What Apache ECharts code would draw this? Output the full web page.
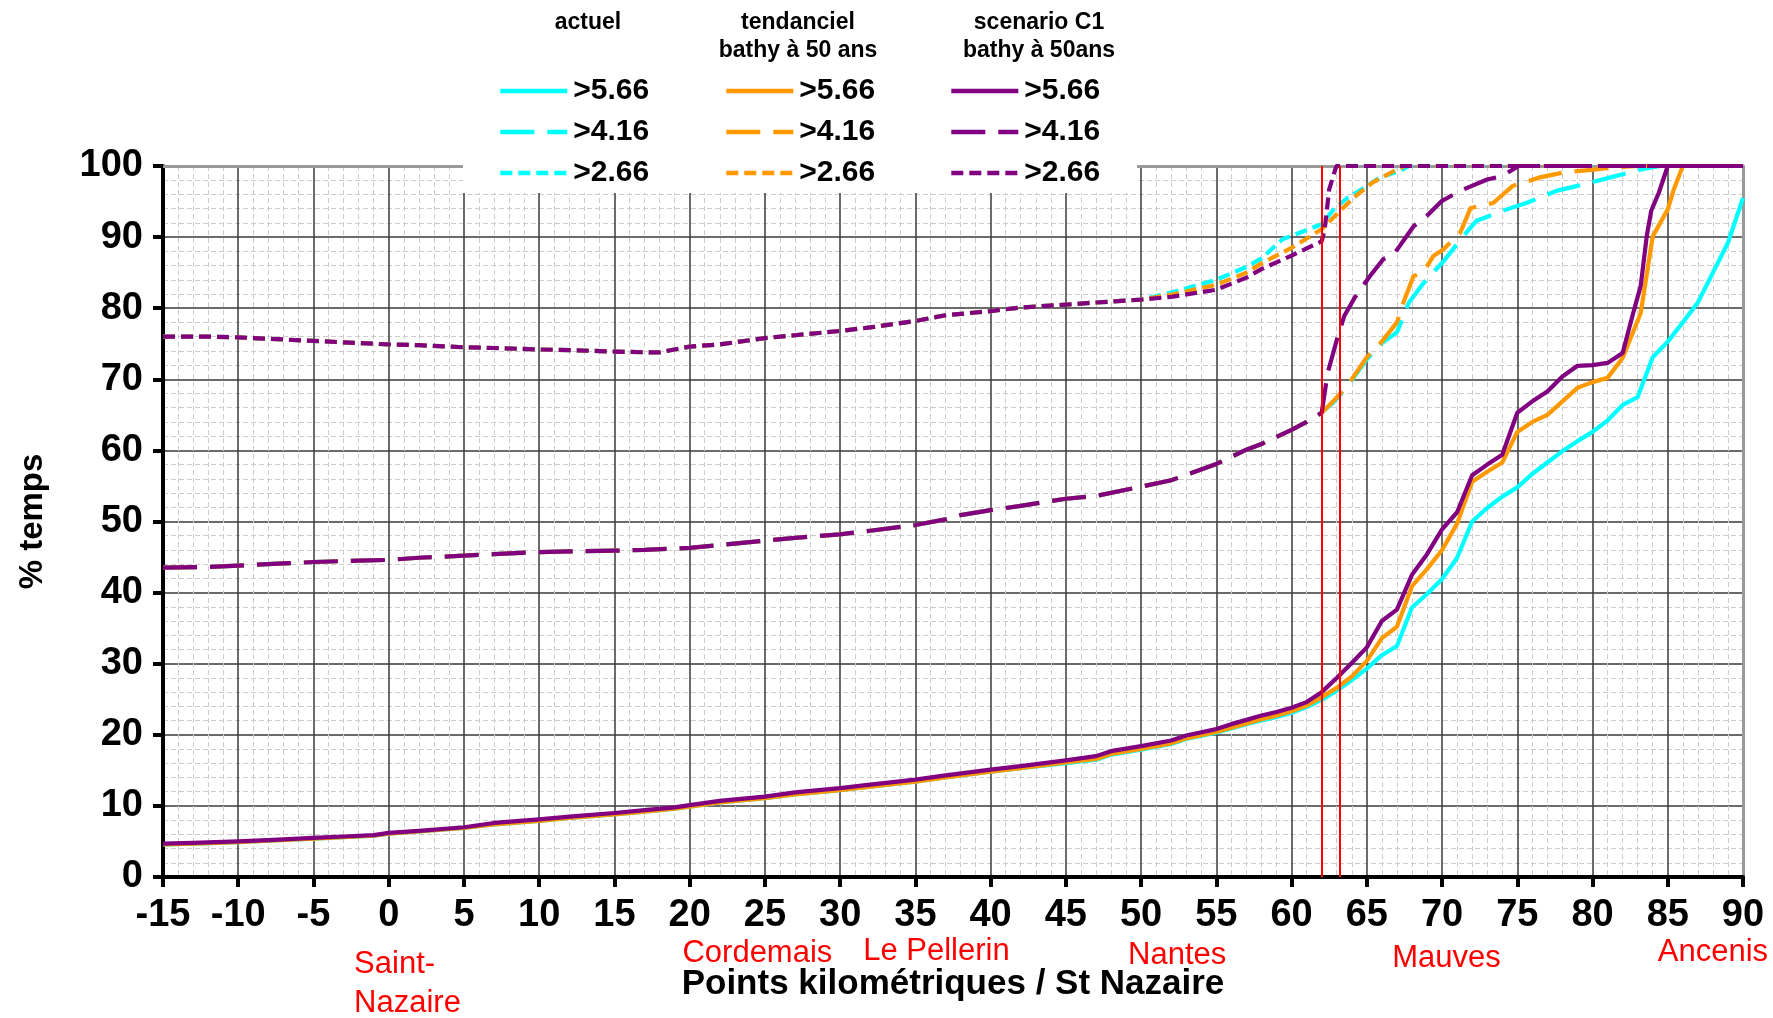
<!DOCTYPE html>
<html>
<head>
<meta charset="utf-8">
<script src="https://cdn.jsdelivr.net/npm/echarts@6/dist/echarts.min.js"></script>
<style>
  html, body { margin: 0; padding: 0; background: #ffffff; }
  #chart { width: 1773px; height: 1018px; }
</style>
</head>
<body>
<div id="chart"></div>
<script>
// Pourcentage du temps où la hauteur d'eau dépasse un seuil, le long de l'estuaire (PK / St Nazaire)

// Axes
const xMin = -15, xMax = 90, xStep = 5;
const yMin = 0, yMax = 100, yStep = 10;

// Seuil >5.66 : [PK, % temps]
const solidActuel = [[-15,4.6],[-13,4.7],[-10,4.9],[-8,5.1],[-5,5.4],[-3,5.6],[-1,5.8],[0,6.1],[2,6.4],[5,6.9],[7,7.4],[10,7.9],[12,8.3],[15,8.8],[17,9.2],[19,9.6],[20,9.9],[22,10.5],[25,11.1],[27,11.6],[30,12.2],[32,12.7],[35,13.4],[37,14.0],[40,14.8],[42,15.3],[45,16.0],[47,16.5],[48,17.2],[50,17.9],[52,18.7],[53,19.4],[55,20.3],[56,20.9],[57,21.5],[58,22.0],[59,22.5],[60,23.1],[61,23.9],[62,24.9],[63,26.2],[64,27.7],[65,29.3],[66,31.2],[67,32.5],[68,37.9],[69,39.8],[70,41.9],[71,44.9],[72,50.0],[73,51.9],[74,53.5],[75,54.8],[76,56.7],[77,58.3],[78,59.9],[79,61.3],[80,62.6],[81,64.2],[82,66.4],[83,67.5],[84,73.1],[85,75.3],[86,78.0],[87,80.8],[88,85.0],[89,89.2],[90,95.5]];
const solidTend = [[-15,4.6],[-13,4.7],[-10,4.9],[-8,5.1],[-5,5.4],[-3,5.6],[-1,5.8],[0,6.1],[2,6.4],[5,6.9],[7,7.4],[10,7.9],[12,8.3],[15,8.8],[17,9.2],[19,9.6],[20,9.9],[22,10.5],[25,11.1],[27,11.6],[30,12.2],[32,12.7],[35,13.4],[37,14.0],[40,14.8],[42,15.3],[45,16.1],[47,16.6],[48,17.3],[50,18.0],[52,18.8],[53,19.5],[55,20.4],[56,21.0],[57,21.6],[58,22.2],[59,22.7],[60,23.3],[61,24.1],[62,25.3],[63,26.6],[64,28.2],[65,30.4],[66,33.6],[67,35.2],[68,40.9],[69,43.3],[70,46.0],[71,49.7],[72,55.6],[73,57.0],[74,58.3],[75,62.6],[76,64.0],[77,65.0],[78,66.9],[79,68.8],[80,69.6],[81,70.2],[82,73.0],[83.2,79.3],[84,90.1],[85,93.9],[85.4,96.7],[86,100],[90,100]];
const solidC1 = [[-15,4.7],[-13,4.8],[-10,5.0],[-8,5.2],[-5,5.5],[-3,5.7],[-1,5.9],[0,6.2],[2,6.5],[5,7.0],[7,7.6],[10,8.1],[12,8.5],[15,9.0],[17,9.4],[19,9.8],[20,10.1],[22,10.7],[25,11.3],[27,11.9],[30,12.5],[32,13.0],[35,13.7],[37,14.3],[40,15.1],[42,15.6],[45,16.4],[47,17.0],[48,17.7],[50,18.4],[52,19.2],[53,19.9],[55,20.8],[56,21.5],[57,22.1],[58,22.7],[59,23.2],[60,23.8],[61,24.6],[62,26.0],[63,28.0],[64,30.1],[65,32.3],[66,36.0],[67,37.6],[68,42.5],[69,45.4],[70,48.9],[71,51.3],[72,56.5],[73,58.0],[74,59.4],[75,65.3],[76,66.9],[77,68.3],[78,70.4],[79,71.9],[80,72.0],[81,72.3],[82,73.7],[82.7,79.3],[83.2,83.1],[83.6,90.1],[83.9,93.7],[84.4,96.2],[85,100],[90,100]];

// Seuil >4.16 : tronçon commun aval puis amont propre à chaque scénario
const dashCommon = [[-15,43.5],[-12,43.6],[-10,43.8],[-7,44.1],[-5,44.3],[-2,44.5],[0,44.6],[2,44.9],[5,45.2],[7,45.4],[10,45.7],[12,45.8],[15,45.9],[17,46.0],[20,46.3],[22,46.7],[25,47.3],[27,47.7],[30,48.2],[32,48.7],[35,49.5],[37,50.3],[38,50.9],[40,51.6],[42,52.2],[45,53.2],[47,53.6],[50,54.9],[52,55.8],[55,58.1],[57,60.1],[58,60.9],[60,62.9],[61,64.0],[62,65.3]];
const dashActuelTail = [[62.9,67.0],[63.7,69.0],[65,72.8],[66,75.1],[67,76.6],[67.8,80.8],[68.8,83.6],[70.1,86.6],[71.4,90.1],[72.3,92.3],[74.3,93.9],[75.6,94.8],[77.6,96.5],[79,97.2],[81.2,98.4],[83.2,99.5],[84.5,100],[90,100]];
const dashTendTail = [[62.9,67.2],[63.7,69.1],[65,73.1],[66,75.3],[67,78.0],[67.5,81.2],[68.1,84.5],[68.8,85.2],[69.4,87.3],[70.1,88.3],[71.2,90.6],[71.9,94.1],[73.4,94.8],[74.7,97.2],[76.5,98.4],[78.1,99.1],[80.1,99.5],[81.4,99.8],[83,100],[90,100]];
const dashC1Tail = [[62.4,70.9],[63,75.5],[63.5,78.9],[64.2,81.5],[65.2,84.5],[66.1,86.9],[66.8,87.6],[67.5,89.7],[68.1,91.5],[69,93.0],[70,95.1],[71.2,96.5],[73,98.1],[74,98.6],[75.1,100],[90,100]];

// Seuil >2.66
const dotCommon = [[-15,76.0],[-12,76.0],[-10,75.9],[-7,75.6],[-5,75.4],[-2,75.1],[0,74.9],[2,74.8],[5,74.5],[7,74.4],[10,74.2],[12,74.1],[15,73.9],[17,73.8],[18,73.8],[20,74.6],[22,74.9],[25,75.8],[27,76.2],[30,76.8],[32,77.3],[35,78.2],[37,79.0],[40,79.6],[42,80.1],[45,80.5],[47,80.8],[50,81.2]];
const dotActuelTail = [[52,82.2],[55,84.0],[57,85.8],[58,87.0],[59.4,89.7],[62,91.8],[62.8,93.9],[63.7,95.5],[64.8,96.9],[65.9,98.4],[67.2,99.3],[67.8,100],[90,100]];
const dotTendTail = [[52,81.9],[55,83.3],[57,85.0],[58,86.3],[60,88.5],[62,91.1],[63,93.2],[64.1,95.5],[65.4,97.7],[66.8,99.3],[67.5,100],[90,100]];
const dotC1Tail = [[52,81.6],[55,82.6],[57,84.3],[58,85.5],[60,87.4],[62,89.4],[62.2,91.1],[62.5,96.7],[62.9,99.5],[63,100],[90,100]];

// Légende
const scenarios = ['actuel', 'tendanciel', 'scenario C1'];
const scenarioHeaders = [['actuel'], ['tendanciel', 'bathy à 50 ans'], ['scenario C1', 'bathy à 50ans']];
const thresholds = ['>5.66', '>4.16', '>2.66'];

// Repères géographiques (PK)
const placeNames = ['Saint-\nNazaire', 'Cordemais', 'Le Pellerin', 'Nantes', 'Mauves', 'Ancenis'];
const placeKm = [-2.3, 24.5, 36.4, 52.4, 70.3, 88.0];

// Limites verticales (PK)
const markKm = [62.0, 63.2];

const FONT = '"Liberation Sans", Arial, Helvetica, sans-serif';
const scenarioColors = ['#00FFFF', '#FF9900', '#800080'];
const thresholdDash = ['solid', [34, 13], [12, 6]];
const seriesData = [
  [solidActuel, dashCommon.concat(dashActuelTail), dotCommon.concat(dotActuelTail)],
  [solidTend, dashCommon.concat(dashTendTail), dotCommon.concat(dotTendTail)],
  [solidC1, dashCommon.concat(dashC1Tail), dotCommon.concat(dotC1Tail)]
];

// legend layout
const legendLineX = [498, 724, 949];
const legendRowY = [91, 132, 173];
const headerX = [588, 798, 1039];
const headerY = [23, 51];
const placeLayout = [
  { align: 'left', y: 984 },
  { align: 'center', y: 953 },
  { align: 'center', y: 951 },
  { align: 'center', y: 955 },
  { align: 'center', y: 958 },
  { align: 'center', y: 952 }
];

const series = [];
const legends = [];
scenarios.forEach((sc, i) => {
  thresholds.forEach((th, j) => {
    const name = sc + ' ' + th;
    series.push({
      name: name,
      type: 'line',
      data: seriesData[i][j],
      symbol: 'none',
      showSymbol: false,
      smooth: false,
      z: 2 + i,
      lineStyle: { color: scenarioColors[i], width: 4.2, type: thresholdDash[j], cap: 'butt', join: 'round' },
      itemStyle: { color: scenarioColors[i] }
    });
    legends.push({
      data: [{ name: name, icon: 'inherit' }],
      icon: 'inherit',
      left: legendLineX[i],
      top: legendRowY[j] - 15,
      padding: 0,
      itemWidth: 67,
      itemHeight: 14,
      selectedMode: false,
      z: 10,
      itemStyle: { opacity: 0, borderWidth: 0 },
      lineStyle: { width: 4.6 },
      formatter: () => th,
      textStyle: { fontFamily: FONT, fontWeight: 'bold', fontSize: 30, color: '#000', lineHeight: 30, padding: [0, 0, 0, 1] }
    });
  });
});

// lignes rouges verticales
series.push({
  name: 'limites',
  type: 'line',
  data: [],
  z: 1,
  markLine: {
    silent: true,
    symbol: 'none',
    label: { show: false },
    lineStyle: { color: '#FF0000', width: 2, type: 'solid' },
    data: markKm.map(k => ({ xAxis: k }))
  }
});

const graphics = [
  {
    type: 'rect',
    id: 'legendBox',
    z: 5,
    shape: { x: 463, y: 0, width: 674, height: 193 },
    style: { fill: '#ffffff' },
    silent: true
  }
];
scenarioHeaders.forEach((lines, i) => {
  lines.forEach((t, k) => {
    graphics.push({
      type: 'text',
      z: 11,
      x: headerX[i],
      y: headerY[k],
      style: { text: t, font: 'bold 23px ' + FONT, fill: '#000', textAlign: 'center', textVerticalAlign: 'middle' },
      silent: true
    });
  });
});

const chart = echarts.init(document.getElementById('chart'), null, { renderer: 'canvas' });

const majorSplit = { show: true, showMaxLine: false, lineStyle: { color: '#3a3a3a', width: 1.5 } };
const minorSplit = { show: true, lineStyle: { color: '#cdcdcd', width: 1, type: [5, 3] } };

chart.setOption({
  animation: false,
  backgroundColor: '#ffffff',
  grid: { left: 163, right: 30, top: 166, bottom: 141, containLabel: false },
  legend: legends,
  xAxis: [
    {
      type: 'value', min: xMin, max: xMax, interval: xStep,
      position: 'bottom',
      axisLine: { show: true, onZero: false, lineStyle: { color: '#000', width: 4 } },
      axisTick: { show: true, length: 10, lineStyle: { color: '#000', width: 4 } },
      minorTick: { show: false, splitNumber: 5 },
      splitLine: majorSplit,
      minorSplitLine: minorSplit,
      axisLabel: { margin: 20, color: '#000', fontFamily: FONT, fontWeight: 'bold', fontSize: 38 },
      name: 'Points kilométriques / St Nazaire',
      nameLocation: 'middle',
      nameGap: 90,
      nameTextStyle: { color: '#000', fontFamily: FONT, fontWeight: 'bold', fontSize: 35 }
    },
    {
      type: 'value', min: xMin, max: xMax, interval: xStep,
      position: 'top',
      axisLine: { show: true, onZero: false, lineStyle: { color: '#9a9a9a', width: 3 } },
      axisTick: { show: false }, axisLabel: { show: false }, splitLine: { show: false }
    }
  ],
  yAxis: [
    {
      type: 'value', min: yMin, max: yMax, interval: yStep,
      position: 'left',
      axisLine: { show: true, onZero: false, lineStyle: { color: '#000', width: 4 } },
      axisTick: { show: true, length: 10, lineStyle: { color: '#000', width: 4 } },
      minorTick: { show: false, splitNumber: 5 },
      splitLine: majorSplit,
      minorSplitLine: minorSplit,
      axisLabel: { margin: 20, color: '#000', fontFamily: FONT, fontWeight: 'bold', fontSize: 38 },
      name: '% temps',
      nameLocation: 'middle',
      nameRotate: 90,
      nameGap: 114,
      nameTextStyle: { color: '#000', fontFamily: FONT, fontWeight: 'bold', fontSize: 33 }
    },
    {
      type: 'value', min: yMin, max: yMax, interval: yStep,
      position: 'right',
      axisLine: { show: true, onZero: false, lineStyle: { color: '#9a9a9a', width: 3 } },
      axisTick: { show: false }, axisLabel: { show: false }, splitLine: { show: false }
    }
  ],
  series: series,
  graphic: graphics
});

// noms de lieux sous l'axe, placés d'après leur PK
const placeGraphics = placeNames.map((n, i) => ({
  type: 'text',
  id: 'place' + i,
  z: 11,
  x: chart.convertToPixel({ xAxisIndex: 0 }, placeKm[i]),
  y: placeLayout[i].y,
  style: {
    text: n, font: '31px ' + FONT, fill: '#FF0000',
    textAlign: placeLayout[i].align, textVerticalAlign: 'middle', lineHeight: 39
  },
  silent: true
}));
chart.setOption({ graphic: graphics.concat(placeGraphics) });
</script>
</body>
</html>
